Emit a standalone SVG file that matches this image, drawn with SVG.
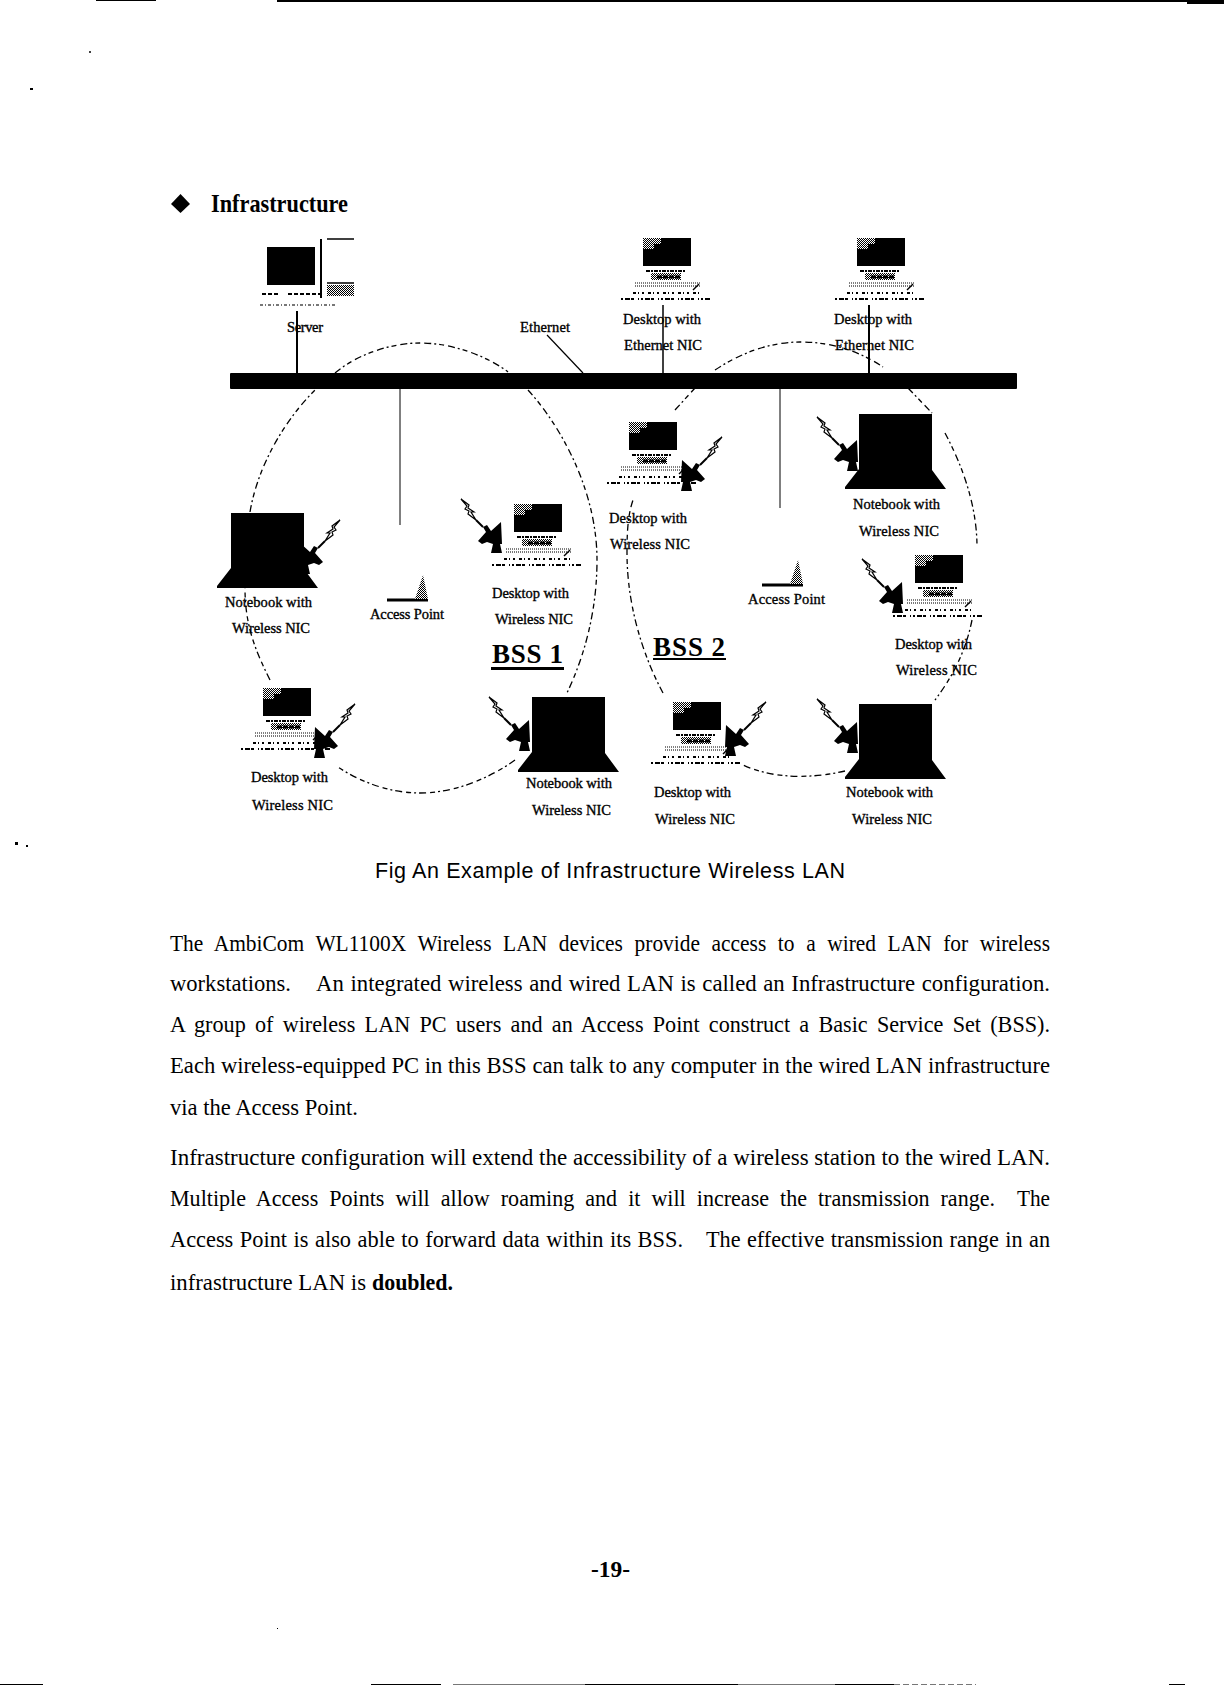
<svg xmlns="http://www.w3.org/2000/svg" width="1224" height="1685" viewBox="0 0 1224 1685">
<style>
text{font-family:"Liberation Serif","Times New Roman",serif;fill:#000}
.l{font-size:14.5px;stroke:#000;stroke-width:.35}
.b{font-size:24px}
.h{font-weight:bold}
.arc{fill:none;stroke:#000;stroke-width:1.3;stroke-dasharray:7 3 2 3 5 4}
.w{fill:none;stroke:#000}
</style>
<defs>
<pattern id="dith" width="2" height="2" patternUnits="userSpaceOnUse"><rect width="2" height="2" fill="#fff"/><rect width="1" height="1" fill="#000"/><rect x="1" y="1" width="1" height="1" fill="#000"/></pattern>
<g id="base">
<path d="M3,33H42" stroke="#000" stroke-width="2" stroke-dasharray="4 1 2 1"/>
<rect x="8" y="35" width="30" height="7" fill="url(#dith)"/>
<path d="M14,39H38" stroke="#000" stroke-width="3" stroke-dasharray="5 1"/>
<path d="M-8,45H58" stroke="#000" stroke-width="1" stroke-dasharray="1 1"/>
<path d="M-8,48H58" stroke="#777" stroke-width="2" stroke-dasharray="1 1"/>
<path d="M-10,55H57" stroke="#000" stroke-width="2" stroke-dasharray="3 2 1 3 2 4"/>
<path d="M-22,61H67" stroke="#000" stroke-width="2" stroke-dasharray="2 2 5 1 3 4 1 2"/>
<path d="M50,52L56,46" stroke="#000" stroke-width="1.5"/>
</g>
<g id="desktop">
<rect x="0" y="0" width="48" height="28" fill="url(#dith)"/>
<path d="M0,11H11V6H18V0H48V28H0Z" fill="#000"/>
<use href="#base"/>
</g>
<g id="laptop">
<path d="M0,0H73V56L87,75H-14V73L0,55Z" fill="#000"/>
</g>
<g id="dish">
<path d="M0,19L8,10L5,5L9,3L13,9L23,0L24,22L22,22L24,31H13L15,22L9,20L4,22Z" fill="#000"/>
<path d="M-17,-23L-9,-17L-10,-14L-4,-10L-7,-10L-2,-2L-10,-8L-9,-11L-13,-13L-11,-16Z" fill="#fff" stroke="#000" stroke-width="1.2"/>
<path d="M-2,-2L5,5" stroke="#000" stroke-width="2"/>
</g>
<g id="ap">
<path d="M0,25H41" stroke="#000" stroke-width="3"/>
<path d="M28,24L36,0L41,24Z" fill="url(#dith)"/>
</g>
</defs>
<rect width="1224" height="1685" fill="#fff"/>

<g id="page">
<rect x="96" y="0" width="60" height="1" fill="#000"/>
<rect x="277" y="0" width="910" height="2" fill="#000"/>
<rect x="1187" y="0" width="37" height="4" fill="#000"/>
<circle cx="90" cy="52" r="1" fill="#000"/>
<rect x="30" y="88" width="3" height="2" fill="#000"/>
<rect x="15" y="842" width="3" height="3" fill="#000"/>
<rect x="26" y="845" width="2" height="2" fill="#000"/>
<rect x="277" y="1628" width="1" height="1" fill="#000"/>
<path d="M0,1684.500H43M371,1684.500H441M585,1684.500H738M835,1684.500H894M1169,1684.500H1185" stroke="#000"/>
<path d="M453,1684.500H585M738,1684.500H835" stroke="#777"/>
<path d="M894,1684.500H976" stroke="#777" stroke-dasharray="6 3"/>
<path d="M171,204L180.500,194L190,204L180.500,213Z" fill="#000"/>
<text x="211" y="212" class="h" font-size="25" textLength="137" lengthAdjust="spacingAndGlyphs">Infrastructure</text>
</g>

<g id="connectors">
<path class="arc" d="M335,373C360,352 395,343 420,343C455,343 490,358 508,372"/>
<path class="arc" d="M528,390C560,425 597,490 597,560C597,610 585,655 567,693"/>
<path class="arc" d="M515,760C490,778 455,793 420,793C390,793 360,782 338,767"/>
<path class="arc" d="M270,680C255,650 245,625 245,588"/>
<path class="arc" d="M250,512C258,465 285,420 315,390"/>
<path class="arc" d="M715,370C745,350 775,342 800,342C835,342 862,353 883,367"/>
<path class="arc" d="M908,388L932,413"/>
<path class="arc" d="M945,433C962,465 977,505 977,547"/>
<path class="arc" d="M972,620C965,655 950,680 935,700"/>
<path class="arc" d="M845,771C815,778 775,780 743,765"/>
<path class="arc" d="M663,693C640,650 627,600 627,553C627,530 628,515 633,500"/>
<path class="arc" d="M675,410L695,388"/>
<path class="w" stroke-width="2" d="M297,311V373"/>
<path class="w" stroke-width="1.500" d="M663,305V373"/>
<path class="w" stroke-width="2" d="M869,305V373"/>
<path class="w" stroke-width="1" d="M400,389V525"/>
<path class="w" stroke-width="1" d="M780,389V508"/>
<path class="w" stroke-width="1.200" d="M547,335L583,373"/>
</g>

<g id="ethernet">
<rect x="230" y="373" width="787" height="16" rx="1" fill="#000"/>
<text class="l" x="520" y="332" textLength="50">Ethernet</text>
</g>

<g id="server">
<rect x="267" y="247" width="48" height="38" fill="#000"/>
<path d="M321,239V298" stroke="#000" stroke-width="2"/>
<path d="M327,239H354" stroke="#000" stroke-width="1.500"/>
<path d="M327,283H354" stroke="#000" stroke-width="1.500"/>
<rect x="327" y="285" width="27" height="11" fill="url(#dith)"/>
<path d="M262,294H278M288,294H320" stroke="#000" stroke-width="2" stroke-dasharray="4 2"/>
<path d="M260,305H335" stroke="#777" stroke-width="2" stroke-dasharray="3 2 1 2"/>
<text class="l" x="287" y="332" textLength="36">Server</text>
</g>

<g id="desktop-ethernet-1">
<use href="#desktop" x="643" y="238"/>
<text class="l" x="623" y="324" textLength="78">Desktop with</text>
<text class="l" x="624" y="350" textLength="78">Ethernet NIC</text>
</g>
<g id="desktop-ethernet-2">
<use href="#desktop" x="857" y="238"/>
<text class="l" x="834" y="324" textLength="78">Desktop with</text>
<text class="l" x="835" y="350" textLength="79">Ethernet NIC</text>
</g>

<g id="notebook-1">
<use href="#laptop" x="231" y="513"/>
<g transform="translate(323,543) scale(-1,1)"><use href="#dish"/></g>
<text class="l" x="225" y="607" textLength="87">Notebook with</text>
<text class="l" x="232" y="633" textLength="78">Wireless NIC</text>
</g>
<g id="access-point-1">
<use href="#ap" x="387" y="575"/>
<text class="l" x="370" y="619" textLength="74">Access Point</text>
</g>
<g id="desktop-wireless-1">
<use href="#desktop" x="514" y="504"/>
<use href="#dish" x="478" y="522"/>
<text class="l" x="492" y="598" textLength="77">Desktop with</text>
<text class="l" x="495" y="624" textLength="78">Wireless NIC</text>
</g>
<g id="bss-1">
<text x="492" y="663" class="h" font-size="27" textLength="71">BSS 1</text>
<rect x="491" y="667" width="73" height="3" fill="#000"/>
</g>
<g id="desktop-wireless-2">
<use href="#desktop" x="263" y="688"/>
<g transform="translate(338,727) scale(-1,1)"><use href="#dish"/></g>
<text class="l" x="251" y="782" textLength="77">Desktop with</text>
<text class="l" x="252" y="810" textLength="81">Wireless NIC</text>
</g>
<g id="notebook-2">
<use href="#laptop" x="532" y="697"/>
<use href="#dish" x="506" y="720"/>
<text class="l" x="526" y="788" textLength="86">Notebook with</text>
<text class="l" x="532" y="815" textLength="79">Wireless NIC</text>
</g>

<g id="desktop-wireless-3">
<use href="#desktop" x="629" y="422"/>
<g transform="translate(705,460) scale(-1,1)"><use href="#dish"/></g>
<text class="l" x="609" y="523" textLength="78">Desktop with</text>
<text class="l" x="610" y="549" textLength="80">Wireless NIC</text>
</g>
<g id="access-point-2">
<use href="#ap" x="762" y="560"/>
<text class="l" x="748" y="604" textLength="77">Access Point</text>
</g>
<g id="notebook-3">
<use href="#laptop" x="859" y="414"/>
<use href="#dish" x="834" y="440"/>
<text class="l" x="853" y="509" textLength="87">Notebook with</text>
<text class="l" x="859" y="536" textLength="80">Wireless NIC</text>
</g>
<g id="desktop-wireless-4">
<use href="#desktop" x="915" y="555"/>
<use href="#dish" x="879" y="582"/>
<text class="l" x="895" y="649" textLength="77">Desktop with</text>
<text class="l" x="896" y="675" textLength="81">Wireless NIC</text>
</g>
<g id="bss-2">
<text x="653" y="656" class="h" font-size="27" textLength="72">BSS 2</text>
<rect x="653" y="658" width="73" height="2" fill="#000"/>
</g>
<g id="desktop-wireless-5">
<use href="#desktop" x="673" y="702"/>
<g transform="translate(749,725) scale(-1,1)"><use href="#dish"/></g>
<text class="l" x="654" y="797" textLength="77">Desktop with</text>
<text class="l" x="655" y="824" textLength="80">Wireless NIC</text>
</g>
<g id="notebook-4">
<use href="#laptop" x="859" y="704"/>
<use href="#dish" x="834" y="722"/>
<text class="l" x="846" y="797" textLength="87">Notebook with</text>
<text class="l" x="852" y="824" textLength="80">Wireless NIC</text>
</g>

<g id="body">
<text x="375" y="878" font-size="21.500" style="font-family:'Liberation Sans',Arial,sans-serif" textLength="470">Fig An Example of Infrastructure Wireless LAN</text>
<text class="b" x="170" y="951" word-spacing="7" textLength="880" lengthAdjust="spacingAndGlyphs">The AmbiCom WL1100X Wireless LAN devices provide access to a wired LAN for wireless</text>
<text class="b" x="170" y="991" textLength="121" lengthAdjust="spacingAndGlyphs">workstations.</text>
<text class="b" x="316" y="991" word-spacing="1" textLength="734" lengthAdjust="spacingAndGlyphs">An integrated wireless and wired LAN is called an Infrastructure configuration.</text>
<text class="b" x="170" y="1032" word-spacing="4" textLength="880" lengthAdjust="spacingAndGlyphs">A group of wireless LAN PC users and an Access Point construct a Basic Service Set (BSS).</text>
<text class="b" x="170" y="1073" textLength="880" lengthAdjust="spacingAndGlyphs">Each wireless-equipped PC in this BSS can talk to any computer in the wired LAN infrastructure</text>
<text class="b" x="170" y="1115" textLength="188" lengthAdjust="spacingAndGlyphs">via the Access Point.</text>
<text class="b" x="170" y="1165" textLength="880" lengthAdjust="spacingAndGlyphs">Infrastructure configuration will extend the accessibility of a wireless station to the wired LAN.</text>
<text class="b" x="170" y="1206" word-spacing="6" textLength="825" lengthAdjust="spacingAndGlyphs">Multiple Access Points will allow roaming and it will increase the transmission range.</text>
<text class="b" x="1017" y="1206" textLength="33" lengthAdjust="spacingAndGlyphs">The</text>
<text class="b" x="170" y="1247" word-spacing="1" textLength="513" lengthAdjust="spacingAndGlyphs">Access Point is also able to forward data within its BSS.</text>
<text class="b" x="706" y="1247" word-spacing="1" textLength="344" lengthAdjust="spacingAndGlyphs">The effective transmission range in an</text>
<text class="b" x="170" y="1290" textLength="196" lengthAdjust="spacingAndGlyphs">infrastructure LAN is</text>
<text class="b h" x="372" y="1290" textLength="81" lengthAdjust="spacingAndGlyphs">doubled.</text>
<text x="591" y="1577" class="h" font-size="24" textLength="39" lengthAdjust="spacingAndGlyphs">-19-</text>
</g>
</svg>
